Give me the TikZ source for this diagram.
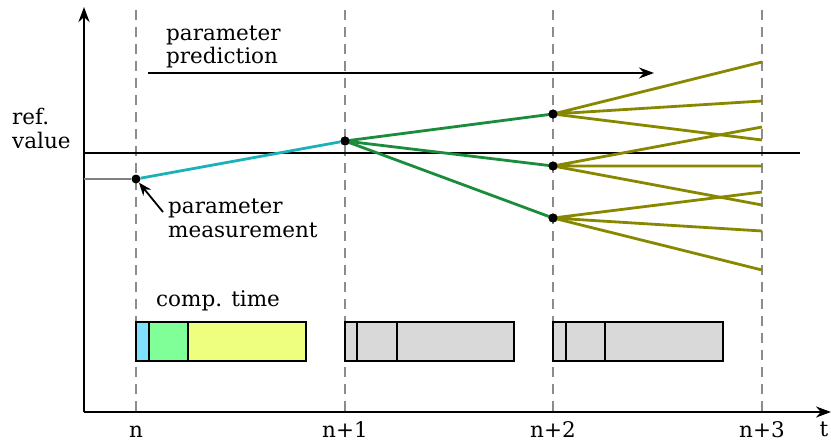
\documentclass[tikz,border=0pt]{standalone}
\usepackage{fontspec}
\setmainfont{DejaVu Serif}
\usetikzlibrary{arrows.meta}

\definecolor{measline}{RGB}{26,178,184}
\definecolor{predone}{RGB}{26,140,60}
\definecolor{predtwo}{RGB}{136,136,0}
\definecolor{slotgray}{RGB}{140,140,140}
\definecolor{boxcyan}{RGB}{128,224,255}
\definecolor{boxgreen}{RGB}{128,255,153}
\definecolor{boxyellow}{RGB}{238,255,128}
\definecolor{boxgray}{RGB}{217,217,217}

\begin{document}
\begin{tikzpicture}[x=1pt,y=-1pt,
  lbl/.style={font=\fontsize{21.5}{24}\selectfont, inner sep=0pt},
  axisline/.style={line width=2.4pt, -{Stealth[length=15pt,width=11pt]}},
  slot/.style={draw=slotgray, line width=2.4pt, dash pattern=on 10pt off 7pt},
  refline/.style={line width=2.4pt},
  stage1/.style={draw=measline, line width=2.8pt},
  stage2/.style={draw=predone, line width=2.8pt},
  stage3/.style={draw=predtwo, line width=2.8pt},
  dot/.style={circle, fill=black, inner sep=0pt, minimum size=9pt},
  seg/.style={draw=black, line width=2.4pt},
]
\useasboundingbox (0,0) rectangle (831,444);

% axes
\coordinate (origin) at (84,412);
\coordinate (ytip) at (84,7);
\coordinate (xtip) at (831,412);
\draw[axisline] (origin) -- (ytip);
\draw[axisline] (origin) -- (xtip);

% sampling instants
\foreach \name/\xx in {s0/136, s1/345, s2/553, s3/762}{
  \coordinate (\name top) at (\xx,10);
  \coordinate (\name bot) at (\xx,412);
  \draw[slot] (\name top) -- (\name bot);
}

% time labels
\node[lbl, anchor=base] (ln0) at (136,437) {n};
\node[lbl, anchor=base] (ln1) at (345,437) {n+1};
\node[lbl, anchor=base] (ln2) at (553,437) {n+2};
\node[lbl, anchor=base] (ln3) at (762,437) {n+3};
\node[lbl, anchor=base] (lt) at (824,436) {t};

% reference value
\coordinate (refL) at (84,153);
\coordinate (refR) at (800,153);
\draw[refline] (refL) -- (refR);
\node[lbl, anchor=base west, align=left] (reflbl) at (12,148) {ref.\\value};

% measured history
\coordinate (hist) at (84,179);
\node[dot] (m0) at (136,179) {};
\draw[draw=gray, line width=2.4pt] (hist) -- (m0);

% first prediction step
\node[dot] (p1) at (345,141) {};
\draw[stage1] (m0) -- (p1);

% second prediction step
\node[dot] (p2a) at (553,114) {};
\node[dot] (p2b) at (553,166) {};
\node[dot] (p2c) at (553,218) {};
\foreach \t in {p2a,p2b,p2c}{\draw[stage2] (p1.center) -- (\t.center);}

% third prediction step
\foreach \src/\ya/\yb/\yc in {p2a/62/101/140, p2b/127/166/205, p2c/192/231/270}{
  \coordinate (\src-1) at (762,\ya);
  \coordinate (\src-2) at (762,\yb);
  \coordinate (\src-3) at (762,\yc);
  \draw[stage3] (\src-1) -- (\src.center) -- (\src-2);
  \draw[stage3] (\src.center) -- (\src-3);
}
\foreach \t in {p1,p2a,p2b,p2c}{\node[dot] at (\t) {};}

% prediction arrow
\node[lbl, anchor=base west, align=left] (predlbl) at (166,64) {parameter\\prediction};
\coordinate (predA) at (148,73);
\coordinate (predB) at (654,73);
\draw[line width=1.8pt, -{Stealth[length=15pt,width=11pt]}] (predA) -- (predB);

% measurement label
\node[lbl, anchor=base west, align=left] (measlbl) at (168,237) {parameter\\measurement};
\coordinate (measA) at (163,212);
\draw[line width=1.8pt, -{Stealth[length=13pt,width=10pt]}] (measA) -- (m0);

% computation time bars
\node[lbl, anchor=base west] (comp) at (156,306) {comp. time};

\filldraw[seg, fill=boxcyan]   (136,322) rectangle (149,361);
\filldraw[seg, fill=boxgreen]  (149,322) rectangle (188,361);
\filldraw[seg, fill=boxyellow] (188,322) rectangle (306,361);

\filldraw[seg, fill=boxgray] (345,322) rectangle (357,361);
\filldraw[seg, fill=boxgray] (357,322) rectangle (397,361);
\filldraw[seg, fill=boxgray] (397,322) rectangle (514,361);

\filldraw[seg, fill=boxgray] (553,322) rectangle (566,361);
\filldraw[seg, fill=boxgray] (566,322) rectangle (605,361);
\filldraw[seg, fill=boxgray] (605,322) rectangle (723,361);
\end{tikzpicture}
\end{document}
